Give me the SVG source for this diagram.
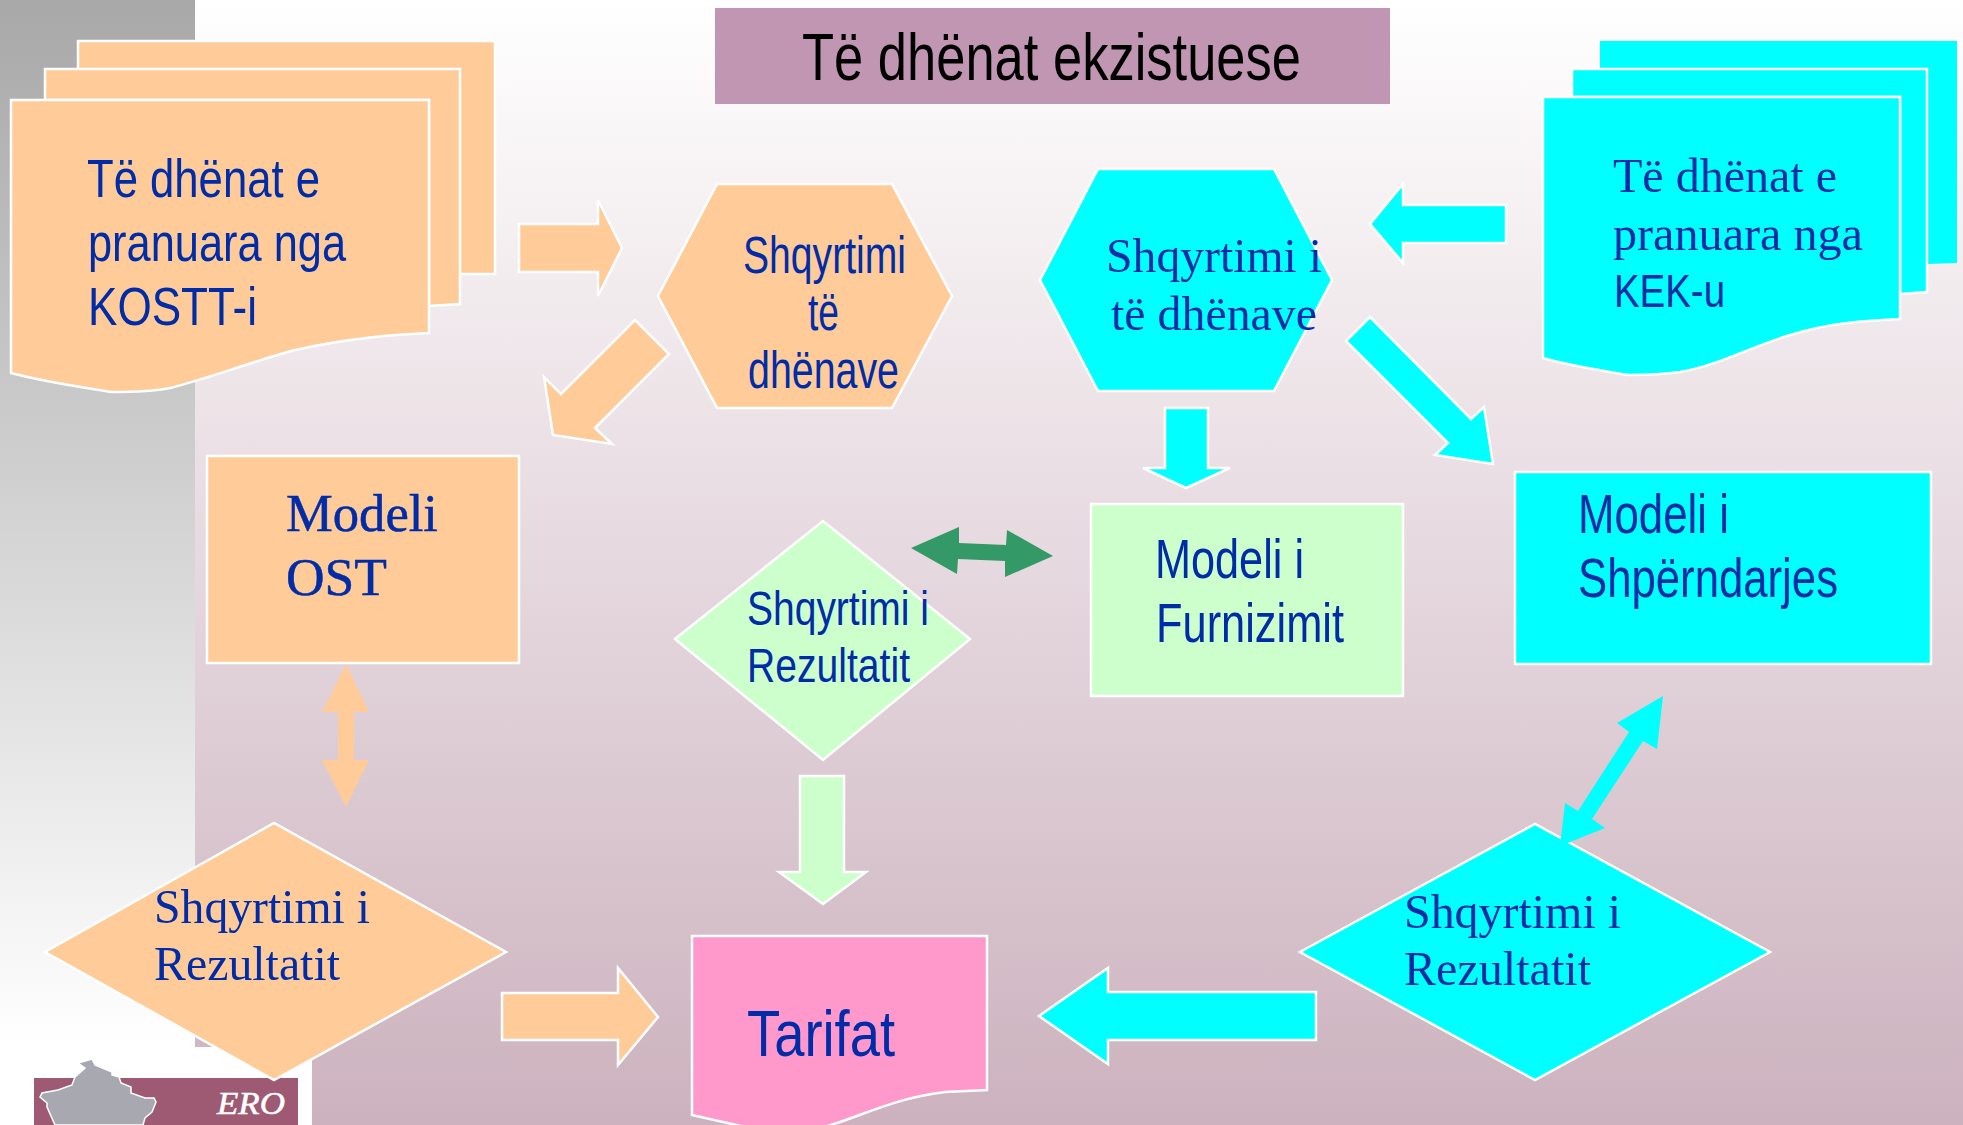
<svg xmlns="http://www.w3.org/2000/svg" width="1963" height="1125" viewBox="0 0 1963 1125">
<style>
.s{stroke:#fff;stroke-width:2.5;stroke-linejoin:miter}
.o{fill:#fc9}.c{fill:#0ff}.g{fill:#cfc}.p{fill:#f9c}
text{fill:#002ca8;white-space:pre}
.sa{font-family:"Liberation Sans",Arial,sans-serif}
.se{font-family:"Liberation Serif","Times New Roman",serif}
</style>
<defs>
<linearGradient id="bg" x1="0" y1="0" x2="0" y2="1"><stop offset="0" stop-color="#fff"/><stop offset="1" stop-color="#ccb2be"/></linearGradient>
<linearGradient id="side" x1="0" y1="0" x2="0" y2="1"><stop offset="0" stop-color="#a8a8a8"/><stop offset="1" stop-color="#fff"/></linearGradient>
</defs>
<rect id="background" width="1963" height="1125" fill="url(#bg)"/>
<rect id="sidebar" width="195" height="1047" fill="url(#side)"/>
<rect x="0" y="1047" width="33" height="78" fill="#fff"/>
<g id="logo">
<rect x="33" y="1047" width="279" height="78" fill="#fff"/>
<rect x="34" y="1078" width="264" height="47" fill="#9e5a72"/>
<polygon points="78,1063 92,1059 95,1065 112,1072 112,1075 119,1077 121,1083 131,1087 131,1093 145,1098 154,1098 156,1102 152,1112 145,1118 143,1125 55,1125 47,1107 47,1103 40,1097 42,1093 58,1090 72,1085 75,1077 85,1068" fill="#a8a9b0" stroke="#fff" stroke-width="1.5"/>
<text x="217" y="1114" class="se" font-size="31" font-style="italic" style="fill:#fff;stroke:#fff;stroke-width:.5" textLength="68" lengthAdjust="spacingAndGlyphs">ERO</text>
</g>
<g id="title">
<rect x="715" y="8" width="675" height="96" fill="#c196b2"/>
<text x="802" y="80" class="sa" font-size="66" style="fill:#000" textLength="499" lengthAdjust="spacingAndGlyphs">Të dhënat ekzistuese</text>
</g>
<g id="connectors">
<polygon class="s o" points="519,224 598,224 598,200 622,248 598,296 598,272 519,272"/>
<polygon class="s o" points="635,320 669,354 595,428 612,444 553,435 544,377 561,394"/>
<polygon class="s c" points="1506,205 1403,205 1403,184 1370,224 1403,263 1403,243 1506,243"/>
<polygon class="s c" points="1370,317 1471,419 1484,407 1493,464 1435,455 1448,443 1346,341"/>
<polygon class="s c" points="1165,408 1208,408 1208,468 1230,468 1186,488 1143,468 1165,468"/>
<polygon fill="#396" points="911,548 959,527 959,543 1006,545 1007,530 1053,556 1005,577 1005,561 958,559 957,574"/>
<polygon class="o" points="346,664 369,712 354,712 354,760 369,760 346,807 322,760 338,760 338,712 322,712"/>
<polygon class="s g" points="800,776 844,776 844,872 866,872 823,904 779,872 800,872"/>
<polygon class="s o" points="502,993 618,993 618,968 658,1017 618,1065 618,1040 502,1040"/>
<polygon class="s c" points="1316,992 1108,992 1108,968 1039,1016 1108,1064 1108,1040 1316,1040"/>
</g>
<g id="stack-kostt">
<path class="s o" d="M78,41H495V274H430V100H78Z"/>
<path class="s o" d="M45,69H460V304L429,306V100H45Z"/>
<path class="s o" d="M11,100H429V333C390,335 350,338 295,350C250,362 210,378 170,388C150,392 125,392 112,392C80,387 45,382 11,373Z"/>
<text class="sa" font-size="54" x="87" y="197" textLength="233" lengthAdjust="spacingAndGlyphs">Të dhënat e</text>
<text class="sa" font-size="54" x="88" y="261" textLength="258" lengthAdjust="spacingAndGlyphs">pranuara nga</text>
<text class="sa" font-size="54" x="88" y="325" textLength="169" lengthAdjust="spacingAndGlyphs">KOSTT-i</text>
</g>
<g id="stack-kek">
<path class="c" d="M1600,41H1957V263L1928,264V69H1600Z"/>
<path class="s c" d="M1572,69H1927V292L1900,294V97H1572Z"/>
<path class="s c" d="M1543,97H1900V319C1860,321 1830,323 1790,335C1750,347 1720,365 1680,372C1660,375 1640,375 1628,375C1600,370 1570,366 1543,358Z"/>
<text class="se" font-size="49" x="1613" y="192" textLength="224" lengthAdjust="spacingAndGlyphs">Të dhënat e</text>
<text class="se" font-size="49" x="1613" y="250" textLength="250" lengthAdjust="spacingAndGlyphs">pranuara nga</text>
<text class="sa" font-size="47" x="1614" y="307" textLength="111" lengthAdjust="spacingAndGlyphs">KEK-u</text>
</g>
<g id="review-orange">
<polygon class="s o" points="658,296 717,184 892,184 952,296 892,408 717,408"/>
<text class="sa" font-size="51" x="743" y="273" textLength="163" lengthAdjust="spacingAndGlyphs">Shqyrtimi</text>
<text class="sa" font-size="51" x="808" y="330" textLength="31" lengthAdjust="spacingAndGlyphs">të</text>
<text class="sa" font-size="51" x="748" y="388" textLength="151" lengthAdjust="spacingAndGlyphs">dhënave</text>
</g>
<g id="review-cyan">
<polygon class="s c" points="1040,280 1098,169 1274,169 1332,280 1274,391 1098,391"/>
<text class="se" font-size="49" x="1106" y="272" textLength="216" lengthAdjust="spacingAndGlyphs">Shqyrtimi i</text>
<text class="se" font-size="49" x="1111" y="330" textLength="206" lengthAdjust="spacingAndGlyphs">të dhënave</text>
</g>
<g id="model-ost">
<rect class="s o" x="207" y="456" width="312" height="207"/>
<text class="se" font-size="53" x="286" y="531" style="stroke:#002ca8;stroke-width:.5" textLength="152" lengthAdjust="spacingAndGlyphs">Modeli</text>
<text class="se" font-size="53" x="286" y="595" style="stroke:#002ca8;stroke-width:.5" textLength="101" lengthAdjust="spacingAndGlyphs">OST</text>
</g>
<g id="model-furnizimit">
<rect class="s g" x="1091" y="504" width="312" height="192"/>
<text class="sa" font-size="55" x="1155" y="578" textLength="149" lengthAdjust="spacingAndGlyphs">Modeli i</text>
<text class="sa" font-size="55" x="1156" y="642" textLength="188" lengthAdjust="spacingAndGlyphs">Furnizimit</text>
</g>
<g id="model-shperndarjes">
<rect class="s c" x="1515" y="472" width="416" height="192"/>
<text class="sa" font-size="55" x="1578" y="533" textLength="151" lengthAdjust="spacingAndGlyphs">Modeli i</text>
<text class="sa" font-size="55" x="1578" y="597" textLength="260" lengthAdjust="spacingAndGlyphs">Shpërndarjes</text>
</g>
<g id="result-green">
<polygon class="s g" points="675,639 823,521 970,639 823,760"/>
<text class="sa" font-size="49" x="747" y="625" textLength="182" lengthAdjust="spacingAndGlyphs">Shqyrtimi i</text>
<text class="sa" font-size="49" x="747" y="682" textLength="163" lengthAdjust="spacingAndGlyphs">Rezultatit</text>
</g>
<g id="result-orange">
<polygon class="s o" points="45,952 274,823 506,952 274,1080"/>
<text class="se" font-size="49" x="154" y="923" textLength="216" lengthAdjust="spacingAndGlyphs">Shqyrtimi i</text>
<text class="se" font-size="49" x="154" y="980" textLength="186" lengthAdjust="spacingAndGlyphs">Rezultatit</text>
</g>
<g id="result-cyan">
<polygon class="s c" points="1300,952 1535,824 1770,952 1535,1080"/>
<text class="se" font-size="49" x="1404" y="928" textLength="217" lengthAdjust="spacingAndGlyphs">Shqyrtimi i</text>
<text class="se" font-size="49" x="1404" y="985" textLength="187" lengthAdjust="spacingAndGlyphs">Rezultatit</text>
</g>
<g id="connector-cyan-double">
<polygon class="c" points="1663,696 1617,723 1629,732 1578,811 1565,803 1560,846 1605,828 1592,819 1643,741 1657,749"/>
</g>
<g id="tarifat">
<path class="s p" d="M692,936H987V1090L945,1092C900,1098 880,1108 840,1122L825,1127H745L692,1115Z"/>
<text class="sa" font-size="65" x="747" y="1056" textLength="148" lengthAdjust="spacingAndGlyphs">Tarifat</text>
</g>
</svg>
